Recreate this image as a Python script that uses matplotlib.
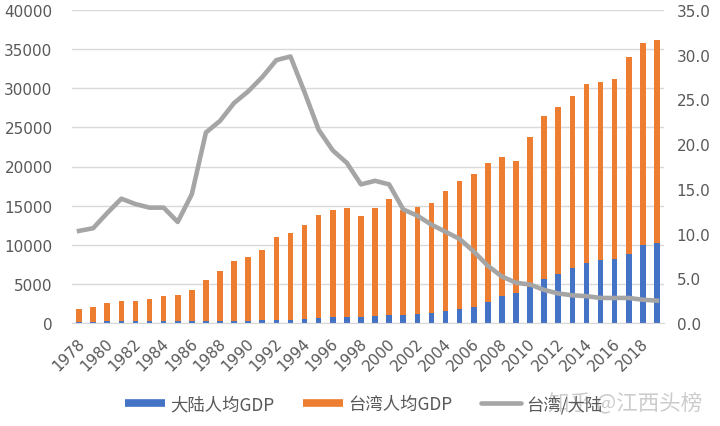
import matplotlib
matplotlib.use("Agg")
import matplotlib.pyplot as plt
from matplotlib.lines import Line2D
import matplotlib.transforms as mtrans
import numpy as np

plt.rcParams['font.family'] = ['DejaVu Sans', 'Noto Sans CJK SC']

years = list(range(1978, 2020))
mainland_gdp = [156, 184, 195, 197, 203, 225, 251, 294, 282, 252,
                284, 311, 318, 333, 366, 377, 473, 610, 709, 782,
                829, 873, 959, 1053, 1149, 1289, 1509, 1753, 2099, 2694,
                3468, 3832, 4550, 5618, 6317, 7051, 7679, 8067, 8148, 8879,
                9977, 10217]
taiwan_gdp = [1577, 1920, 2344, 2669, 2653, 2848, 3203, 3295, 3993, 5275,
              6333, 7577, 8124, 9016, 10625, 11079, 12078, 13129, 13673, 13968,
              12787, 13817, 14844, 13357, 13690, 14041, 15317, 16456, 16934, 17757,
              17780, 16933, 19197, 20866, 21295, 21973, 22874, 22780, 23091, 25080,
              25838, 25909]
ratio = [10.3, 10.6, 12.3, 13.9, 13.3, 12.9, 12.9, 11.3, 14.4, 21.3,
         22.6, 24.6, 25.9, 27.5, 29.4, 29.8, 25.8, 21.6, 19.3, 17.9,
         15.5, 15.9, 15.5, 12.7, 12.0, 11.0, 10.2, 9.4, 8.0, 6.4,
         5.2, 4.5, 4.3, 3.7, 3.3, 3.1, 3.0, 2.8, 2.8, 2.8,
         2.6, 2.5]
series_names = ['大陆人均GDP', '台湾人均GDP', '台湾/大陆']
tick_years = [str(y) for y in range(1978, 2019, 2)]

BLUE = '#4472C4'
ORANGE = '#ED7D31'
GRAY = '#A5A5A5'
TXT = '#595959'

fig = plt.figure(figsize=(7.2, 4.27), dpi=100)
ax = fig.add_axes([72/720, 1-324/427, (664-72)/720, (324-11)/427])
x = np.arange(len(years))
ax.bar(x, mainland_gdp, width=0.4, color=BLUE, zorder=2)
ax.bar(x, taiwan_gdp, width=0.4, bottom=mainland_gdp, color=ORANGE, zorder=2)
ax.set_xlim(-0.5, len(years)-0.5)
ax.set_ylim(0, 40000)
ax.set_yticks(range(0, 40001, 5000))
ax.set_yticklabels([str(v) for v in range(0, 40001, 5000)])
ax.grid(axis='y', color='#D9D9D9', lw=1, zorder=0)
for s in ['top', 'left', 'right']:
    ax.spines[s].set_visible(False)
ax.spines['bottom'].set_color('#D9D9D9')
ax.tick_params(axis='y', length=0, pad=14, labelsize=11, labelcolor=TXT)
ax.tick_params(axis='x', length=0)
ax.set_xticks(x[::2])
ax.set_xticklabels(tick_years, rotation=45, ha='right', va='top',
                   rotation_mode='anchor', fontsize=11, color=TXT)
off = mtrans.ScaledTranslation(-2/100, -7/100, fig.dpi_scale_trans)
for lab in ax.get_xticklabels():
    lab.set_transform(lab.get_transform() + off)

ax2 = ax.twinx()
ax2.plot(x, ratio, color=GRAY, lw=3.3, solid_joinstyle='round', zorder=3)
ax2.set_ylim(0, 35)
ax2.set_yticks(np.arange(0, 35.1, 5))
ax2.set_yticklabels([f'{v:.1f}' for v in np.arange(0, 35.1, 5)])
for s in ['top', 'left', 'right', 'bottom']:
    ax2.spines[s].set_visible(False)
ax2.tick_params(axis='y', length=0, pad=9, labelsize=11, labelcolor=TXT)

handles = [Line2D([], [], color=BLUE, lw=5.5, solid_capstyle='butt'),
           Line2D([], [], color=ORANGE, lw=5.5, solid_capstyle='butt'),
           Line2D([], [], color=GRAY, lw=3.3, solid_capstyle='round')]
leg = fig.legend(handles, series_names, loc='center', bbox_to_anchor=(364/720, 1-405/427),
                 ncol=3, frameon=False, handlelength=2.3, handletextpad=0.3,
                 columnspacing=1.65,
                 prop={'family': ['Noto Sans CJK SC', 'DejaVu Sans'], 'size': 12.5})
for t in leg.get_texts():
    t.set_color(TXT)

fig.text(548/720, 1-404/427, '知乎 @江西头榜', fontsize=15.5, color='#9a9a9a', alpha=0.5,
         ha='left', va='center', family=['Noto Sans CJK SC', 'DejaVu Sans'])

fig.savefig('out.png', dpi=100)
